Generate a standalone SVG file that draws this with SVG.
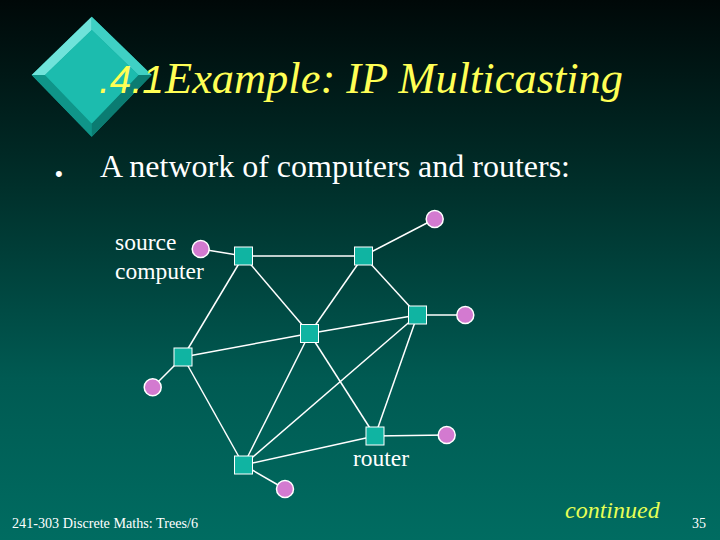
<svg xmlns="http://www.w3.org/2000/svg" width="720" height="540" viewBox="0 0 720 540">
<defs>
<linearGradient id="bg" x1="0" y1="0" x2="0" y2="1">
<stop offset="0" stop-color="#000808"/>
<stop offset="0.35" stop-color="#00302b"/>
<stop offset="0.7" stop-color="#005a52"/>
<stop offset="1" stop-color="#006c61"/>
</linearGradient>
<style>
.edge{stroke:#ffffff;stroke-width:1.5;fill:none}
.router{fill:#10b4a2;stroke:#ffffff;stroke-width:1}
.computer{fill:#d37ad0;stroke:#ffffff;stroke-width:1.5}
.lbl{font-family:"Liberation Serif","Times New Roman",serif;fill:#ffffff}
.title{font-family:"Liberation Serif","Times New Roman",serif;font-style:italic;fill:#ffff55}
</style>
</defs>
<rect x="0" y="0" width="720" height="540" fill="url(#bg)"/>
<g id="diamond">
<polygon points="91.7,16.7 151.7,75 91.7,136.7 31.7,75" fill="#12a89a"/>
<polygon points="91.7,16.7 31.7,75 45,75 91.7,30" fill="#6fe3da"/>
<polygon points="91.7,16.7 151.7,75 138.4,75 91.7,30" fill="#3fd0c4"/>
<polygon points="31.7,75 91.7,136.7 91.7,123.4 45,75" fill="#0f9589"/>
<polygon points="151.7,75 91.7,136.7 91.7,123.4 138.4,75" fill="#0b7c72"/>
<polygon points="91.7,30 138.4,75 91.7,123.4 45,75" fill="#1cbcae"/>
</g>
<g id="title">
<text x="99" y="93" font-family="'Liberation Sans',Arial,sans-serif" font-style="italic" font-size="39" fill="#ffff55">.4.1</text>
<text class="title" x="165" y="93" font-size="44" textLength="458" lengthAdjust="spacingAndGlyphs">Example: IP Multicasting</text>
</g>
<g id="bullet">
<text x="55" y="181" font-family="'Liberation Sans',Arial,sans-serif" font-size="22" fill="#ffffff">•</text>
<text class="lbl" x="100" y="177" font-size="31" textLength="470" lengthAdjust="spacingAndGlyphs">A network of computers and routers:</text>
</g>
<g id="connectors">
<line class="edge" x1="200.7" y1="249" x2="243.5" y2="256"/>
<line class="edge" x1="243.5" y1="256" x2="363.5" y2="256"/>
<line class="edge" x1="363.5" y1="256" x2="434.7" y2="219"/>
<line class="edge" x1="243.5" y1="256" x2="309.5" y2="333.5"/>
<line class="edge" x1="243.5" y1="256" x2="183" y2="357"/>
<line class="edge" x1="363.5" y1="256" x2="309.5" y2="333.5"/>
<line class="edge" x1="363.5" y1="256" x2="417.5" y2="315"/>
<line class="edge" x1="417.5" y1="315" x2="465.3" y2="315"/>
<line class="edge" x1="417.5" y1="315" x2="309.5" y2="333.5"/>
<line class="edge" x1="183" y1="357" x2="309.5" y2="333.5"/>
<line class="edge" x1="183" y1="357" x2="152.7" y2="387.3"/>
<line class="edge" x1="183" y1="357" x2="243.5" y2="465"/>
<line class="edge" x1="309.5" y1="333.5" x2="243.5" y2="465"/>
<line class="edge" x1="309.5" y1="333.5" x2="375" y2="436"/>
<line class="edge" x1="417.5" y1="315" x2="243.5" y2="465"/>
<line class="edge" x1="417.5" y1="315" x2="375" y2="436"/>
<line class="edge" x1="243.5" y1="465" x2="375" y2="436"/>
<line class="edge" x1="375" y1="436" x2="446.7" y2="435"/>
<line class="edge" x1="243.5" y1="465" x2="285" y2="489"/>
</g>
<g id="r1"><rect class="router" x="234.5" y="247" width="18" height="18"/></g>
<g id="r2"><rect class="router" x="354.5" y="247" width="18" height="18"/></g>
<g id="r3"><rect class="router" x="408.5" y="306" width="18" height="18"/></g>
<g id="r4"><rect class="router" x="300.5" y="324.5" width="18" height="18"/></g>
<g id="r5"><rect class="router" x="174" y="348" width="18" height="18"/></g>
<g id="r6"><rect class="router" x="366" y="427" width="18" height="18"/></g>
<g id="r7"><rect class="router" x="234.5" y="456" width="18" height="18"/></g>
<g id="c1"><circle class="computer" cx="200.7" cy="249" r="8.5"/></g>
<g id="c2"><circle class="computer" cx="434.7" cy="219" r="8.5"/></g>
<g id="c3"><circle class="computer" cx="465.3" cy="315" r="8.5"/></g>
<g id="c4"><circle class="computer" cx="152.7" cy="387.3" r="8.5"/></g>
<g id="c5"><circle class="computer" cx="446.7" cy="435" r="8.5"/></g>
<g id="c6"><circle class="computer" cx="285" cy="489" r="8.5"/></g>
<g id="labels">
<text class="lbl" x="115" y="250" font-size="23.5">source</text>
<text class="lbl" x="115" y="279" font-size="23.5">computer</text>
<text class="lbl" x="353" y="466" font-size="23.5">router</text>
</g>
<g id="footer">
<text x="565" y="518" font-family="'Liberation Serif','Times New Roman',serif" font-style="italic" font-size="24" fill="#e6ff55">continued</text>
<text class="lbl" x="12" y="528" font-size="14" textLength="186" lengthAdjust="spacingAndGlyphs">241-303 Discrete Maths: Trees/6</text>
<text class="lbl" x="692" y="528" font-size="14">35</text>
</g>
</svg>
